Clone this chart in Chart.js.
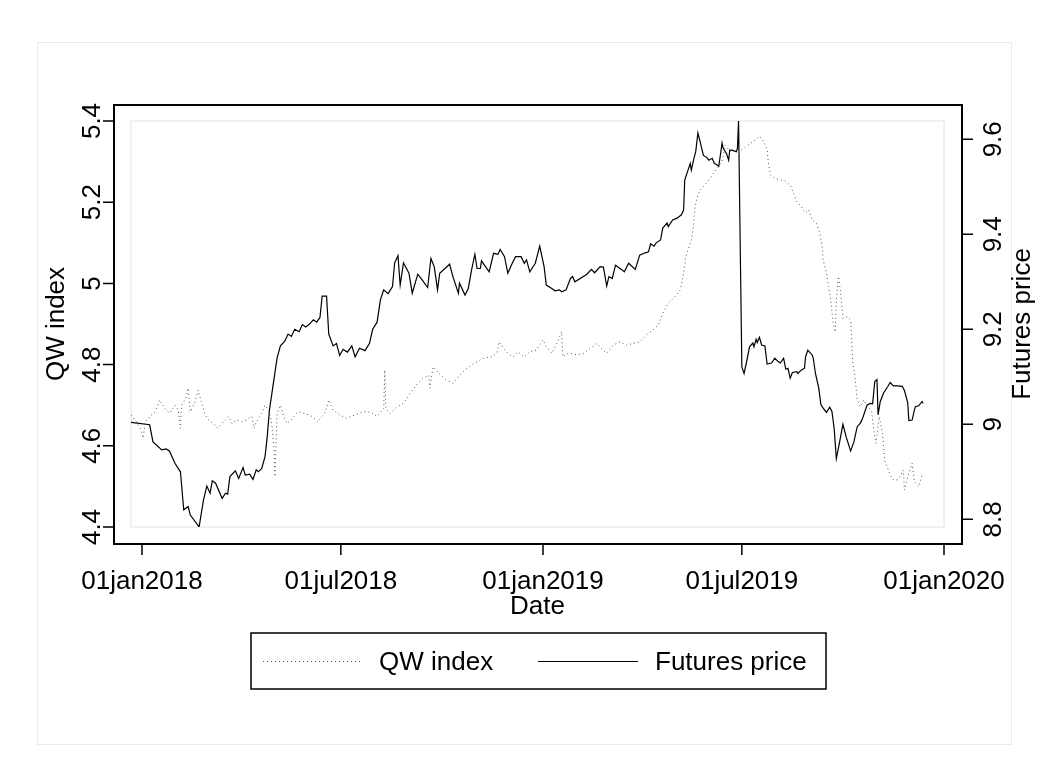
<!DOCTYPE html>
<html>
<head>
<meta charset="utf-8">
<script src="https://cdn.jsdelivr.net/npm/chart.js@4.4.1/dist/chart.umd.min.js"></script>
<style>
html, body { margin: 0; padding: 0; background: #fff; }
</style>
</head>
<body>
<canvas id="chart" width="1049" height="772"></canvas>
<script>
// x values are days counted from 01jan2018
const qwDay = [
  -10, -5, -1, 1, 3, 7, 12, 16, 21, 25,
  30, 33, 35, 36, 40, 42, 44, 48, 51, 54,
  57, 60, 65, 69, 74, 79, 82, 86, 91, 95,
  100, 102, 104, 109, 112, 116, 118, 120, 121, 123,
  126, 129, 132, 136, 142, 148, 155, 160, 167, 170,
  174, 180, 186, 194, 201, 208, 214, 220, 221, 222,
  226, 232, 238, 245, 251, 256, 261, 262, 265, 270,
  276, 283, 288, 294, 302, 311, 318, 323, 325, 329,
  333, 338, 342, 348, 353, 359, 365, 368, 373, 377,
  382, 383, 388, 396, 402, 408, 414, 418, 423, 429,
  435, 441, 447, 453, 459, 465, 470, 474, 479, 485,
  490, 493, 495, 498, 500, 502, 503, 505, 508, 512,
  515, 519, 523, 528, 531, 534, 537, 541, 546, 550,
  556, 560, 562, 566, 569, 570, 572, 576, 581, 585,
  590, 593, 596, 600, 604, 607, 610, 614, 617, 619,
  620, 623, 625, 627, 629, 631, 632, 634, 636, 638,
  642, 645, 646, 647, 649, 651, 654, 657, 660, 664,
  666, 668, 671, 674, 676, 681, 684, 688, 693, 694,
  697, 701, 703, 707, 710
];
const qwValue = [
  4.676, 4.659, 4.640, 4.619, 4.659, 4.672, 4.684, 4.713, 4.692, 4.680,
  4.700, 4.688, 4.643, 4.700, 4.717, 4.742, 4.684, 4.705, 4.737, 4.709,
  4.680, 4.665, 4.655, 4.643, 4.659, 4.672, 4.655, 4.664, 4.659, 4.664,
  4.672, 4.643, 4.659, 4.680, 4.700, 4.684, 4.655, 4.598, 4.524, 4.680,
  4.700, 4.672, 4.655, 4.664, 4.684, 4.680, 4.672, 4.659, 4.684, 4.713,
  4.688, 4.676, 4.668, 4.676, 4.684, 4.683, 4.672, 4.692, 4.787, 4.690,
  4.680, 4.696, 4.705, 4.733, 4.754, 4.766, 4.774, 4.742, 4.795, 4.779,
  4.764, 4.754, 4.770, 4.787, 4.803, 4.816, 4.819, 4.828, 4.856, 4.840,
  4.828, 4.819, 4.832, 4.819, 4.832, 4.836, 4.861, 4.844, 4.828, 4.848,
  4.881, 4.819, 4.828, 4.824, 4.828, 4.840, 4.852, 4.840, 4.828, 4.848,
  4.856, 4.848, 4.852, 4.856, 4.873, 4.885, 4.898, 4.926, 4.951, 4.967,
  4.984, 5.025, 5.066, 5.090, 5.107, 5.140, 5.181, 5.210, 5.230, 5.242,
  5.251, 5.267, 5.282, 5.300, 5.341, 5.329, 5.324, 5.329, 5.329, 5.337,
  5.349, 5.357, 5.363, 5.349, 5.329, 5.300, 5.267, 5.259, 5.255, 5.253,
  5.242, 5.222, 5.201, 5.189, 5.173, 5.181, 5.156, 5.148, 5.123, 5.090,
  5.058, 5.025, 4.992, 4.959, 4.902, 4.880, 4.959, 5.017, 4.976, 4.914,
  4.918, 4.910, 4.861, 4.803, 4.770, 4.713, 4.696, 4.713, 4.696, 4.688,
  4.639, 4.606, 4.672, 4.631, 4.565, 4.528, 4.516, 4.516, 4.540, 4.491,
  4.524, 4.557, 4.512, 4.499, 4.528
];

const futDay = [
  -10, 7, 10, 18, 22, 25, 30, 35, 38, 42,
  44, 52, 56, 59, 62, 64, 67, 73, 76, 78,
  80, 85, 88, 92, 94, 98, 101, 104, 106, 109,
  112, 114, 116, 120, 123, 126, 130, 133, 136, 139,
  143, 146, 149, 152, 156, 159, 162, 164, 168, 170,
  174, 177, 180, 183, 187, 191, 194, 198, 203, 207,
  210, 214, 217, 220, 224, 228, 230, 233, 235, 238,
  243, 246, 251, 255, 260, 263, 266, 269, 271, 280,
  283, 288, 289, 294, 297, 300, 303, 305, 308, 309,
  316, 320, 324, 326, 330, 333, 337, 340, 345, 348,
  350, 353, 358, 362, 366, 368, 373, 376, 380, 382,
  386, 390, 392, 394, 405, 409, 412, 417, 420, 423,
  425, 428, 431, 437, 439, 443, 449, 453, 458, 461,
  463, 466, 468, 472, 474, 478, 479, 483, 487, 491,
  493, 494, 497, 499, 500, 502, 504, 506, 508, 511,
  514, 516, 519, 521, 523, 525, 528, 529, 532, 534,
  535, 537, 541, 542, 543, 546, 548, 550, 553, 556,
  557, 559, 560, 562, 564, 567, 569, 573, 576, 579,
  581, 584, 586, 588, 590, 592, 596, 597, 600, 603,
  604, 606, 610, 611, 613, 616, 618, 620, 623, 626,
  628, 630, 632, 635, 638, 641, 645, 648, 651, 654,
  656, 658, 660, 663, 665, 667, 669, 670, 672, 675,
  679, 681, 684, 688, 692, 694, 697, 698, 701, 703,
  704, 707, 710, 711
];
const futValue = [
  9.004, 8.999, 8.963, 8.946, 8.948, 8.944, 8.918, 8.900, 8.820, 8.827,
  8.809, 8.784, 8.841, 8.870, 8.855, 8.881, 8.876, 8.844, 8.855, 8.853,
  8.890, 8.902, 8.886, 8.909, 8.893, 8.895, 8.884, 8.904, 8.900, 8.907,
  8.932, 8.974, 9.030, 9.093, 9.140, 9.165, 9.175, 9.190, 9.185, 9.200,
  9.195, 9.210, 9.205, 9.210, 9.220, 9.215, 9.225, 9.270, 9.270, 9.190,
  9.165, 9.170, 9.145, 9.158, 9.152, 9.165, 9.142, 9.160, 9.155, 9.170,
  9.200, 9.215, 9.262, 9.283, 9.275, 9.290, 9.340, 9.355, 9.293, 9.340,
  9.318, 9.276, 9.316, 9.304, 9.288, 9.349, 9.332, 9.283, 9.318, 9.337,
  9.311, 9.276, 9.297, 9.272, 9.286, 9.325, 9.358, 9.328, 9.328, 9.344,
  9.321, 9.360, 9.358, 9.368, 9.353, 9.318, 9.339, 9.353, 9.353, 9.339,
  9.346, 9.321, 9.339, 9.375, 9.332, 9.293, 9.286, 9.281, 9.283, 9.279,
  9.283, 9.307, 9.311, 9.300, 9.316, 9.326, 9.319, 9.332, 9.331, 9.291,
  9.311, 9.307, 9.335, 9.325, 9.321, 9.339, 9.326, 9.356, 9.361, 9.363,
  9.380, 9.375, 9.382, 9.388, 9.413, 9.424, 9.416, 9.430, 9.434, 9.441,
  9.451, 9.514, 9.535, 9.549, 9.535, 9.556, 9.574, 9.613, 9.595, 9.566,
  9.562, 9.556, 9.560, 9.549, 9.547, 9.543, 9.592, 9.581, 9.570, 9.556,
  9.577, 9.577, 9.574, 9.581, 9.639, 9.121, 9.107, 9.128, 9.163, 9.171,
  9.163, 9.179, 9.172, 9.183, 9.167, 9.165, 9.127, 9.129, 9.139, 9.132,
  9.129, 9.139, 9.116, 9.118, 9.097, 9.109, 9.111, 9.107, 9.114, 9.118,
  9.142, 9.156, 9.146, 9.139, 9.107, 9.076, 9.041, 9.034, 9.025, 9.036,
  9.027, 8.992, 8.928, 8.963, 9.000, 8.973, 8.944, 8.963, 8.995, 9.003,
  9.013, 9.027, 9.041, 9.044, 9.043, 9.090, 9.094, 9.020, 9.048, 9.066,
  9.080, 9.088, 9.081, 9.081, 9.080, 9.071, 9.045, 9.008, 9.009, 9.030,
  9.037, 9.039, 9.048, 9.044
];

const xTickDays = [0, 181, 365, 546, 730];
const xTickLabels = ['01jan2018', '01jul2018', '01jan2019', '01jul2019', '01jan2020'];
const leftTicks = [4.4, 4.6, 4.8, 5, 5.2, 5.4];
const rightTicks = [8.8, 9, 9.2, 9.4, 9.6];

const FONT = '26px "Liberation Sans", Arial, sans-serif';

const toPoints = (xs, ys) => xs.map((x, i) => ({ x: x, y: ys[i] }));

// stata style frame, ticks, titles and legend
const stataFrame = {
  id: 'stataFrame',
  beforeDatasetsDraw(chart) {
    const ctx = chart.ctx;
    const a = chart.chartArea;
    ctx.save();
    ctx.strokeStyle = '#e6edf0';
    ctx.lineWidth = 1;
    ctx.strokeRect(37.5, 42.5, 974, 702);
    ctx.strokeStyle = '#e6eef2';
    ctx.lineWidth = 1.5;
    ctx.strokeRect(a.left, a.top, a.right - a.left, a.bottom - a.top);
    ctx.restore();
  },
  afterDraw(chart) {
    const ctx = chart.ctx;
    const a = chart.chartArea;
    const sx = chart.scales.x, sl = chart.scales.yL, sr = chart.scales.yR;
    ctx.save();
    ctx.strokeStyle = '#000';
    ctx.lineWidth = 2;
    ctx.strokeRect(114, 105, 848, 439);

    ctx.lineWidth = 1.5;
    ctx.beginPath();
    leftTicks.forEach(v => { const y = sl.getPixelForValue(v); ctx.moveTo(103, y); ctx.lineTo(114, y); });
    rightTicks.forEach(v => { const y = sr.getPixelForValue(v); ctx.moveTo(962, y); ctx.lineTo(973, y); });
    xTickDays.forEach(d => { const x = sx.getPixelForValue(d); ctx.moveTo(x, 544); ctx.lineTo(x, 555); });
    ctx.stroke();

    ctx.fillStyle = '#000';
    ctx.font = FONT;
    ctx.textAlign = 'center';
    ctx.textBaseline = 'alphabetic';
    xTickDays.forEach((d, i) => ctx.fillText(xTickLabels[i], sx.getPixelForValue(d), 589));
    ctx.fillText('Date', (a.left + a.right) / 2, 614);

    const vtext = (txt, x, y) => {
      ctx.save();
      ctx.translate(x, y);
      ctx.rotate(-Math.PI / 2);
      ctx.fillText(txt, 0, 0);
      ctx.restore();
    };
    leftTicks.forEach(v => vtext(String(v), 100, sl.getPixelForValue(v)));
    rightTicks.forEach(v => vtext(String(v), 1001, sr.getPixelForValue(v)));
    const midY = (a.top + a.bottom) / 2;
    vtext('QW index', 64, midY);
    vtext('Futures price', 1030, midY);

    // legend
    ctx.lineWidth = 1.5;
    ctx.strokeRect(251, 633, 575, 56);
    ctx.beginPath();
    ctx.setLineDash([1, 3]);
    ctx.strokeStyle = '#555';
    ctx.lineWidth = 1;
    ctx.moveTo(263, 661.5);
    ctx.lineTo(361, 661.5);
    ctx.stroke();
    ctx.setLineDash([]);
    ctx.beginPath();
    ctx.strokeStyle = '#000';
    ctx.lineWidth = 1.2;
    ctx.moveTo(538, 661.5);
    ctx.lineTo(638, 661.5);
    ctx.stroke();
    ctx.textAlign = 'left';
    ctx.fillText('QW index', 379, 670);
    ctx.fillText('Futures price', 655, 670);
    ctx.restore();
  }
};

new Chart(document.getElementById('chart'), {
  type: 'line',
  data: {
    datasets: [{
      label: 'QW index',
      data: toPoints(qwDay, qwValue),
      yAxisID: 'yL',
      borderColor: '#555',
      borderWidth: 1,
      borderDash: [1, 3],
      pointRadius: 0,
      tension: 0
    }, {
      label: 'Futures price',
      data: toPoints(futDay, futValue),
      yAxisID: 'yR',
      borderColor: '#000',
      borderWidth: 1.2,
      pointRadius: 0,
      tension: 0
    }]
  },
  options: {
    responsive: false,
    animation: false,
    devicePixelRatio: 1,
    layout: { padding: { left: 131, right: 105, top: 121, bottom: 245 } },
    scales: {
      x: { type: 'linear', min: -10, max: 730, display: false },
      yL: { type: 'linear', position: 'left', min: 4.4, max: 5.4, display: false },
      yR: { type: 'linear', position: 'right', min: 8.7838, max: 9.6385, display: false }
    },
    plugins: { legend: { display: false }, tooltip: { enabled: false } }
  },
  plugins: [stataFrame]
});
</script>
</body>
</html>
